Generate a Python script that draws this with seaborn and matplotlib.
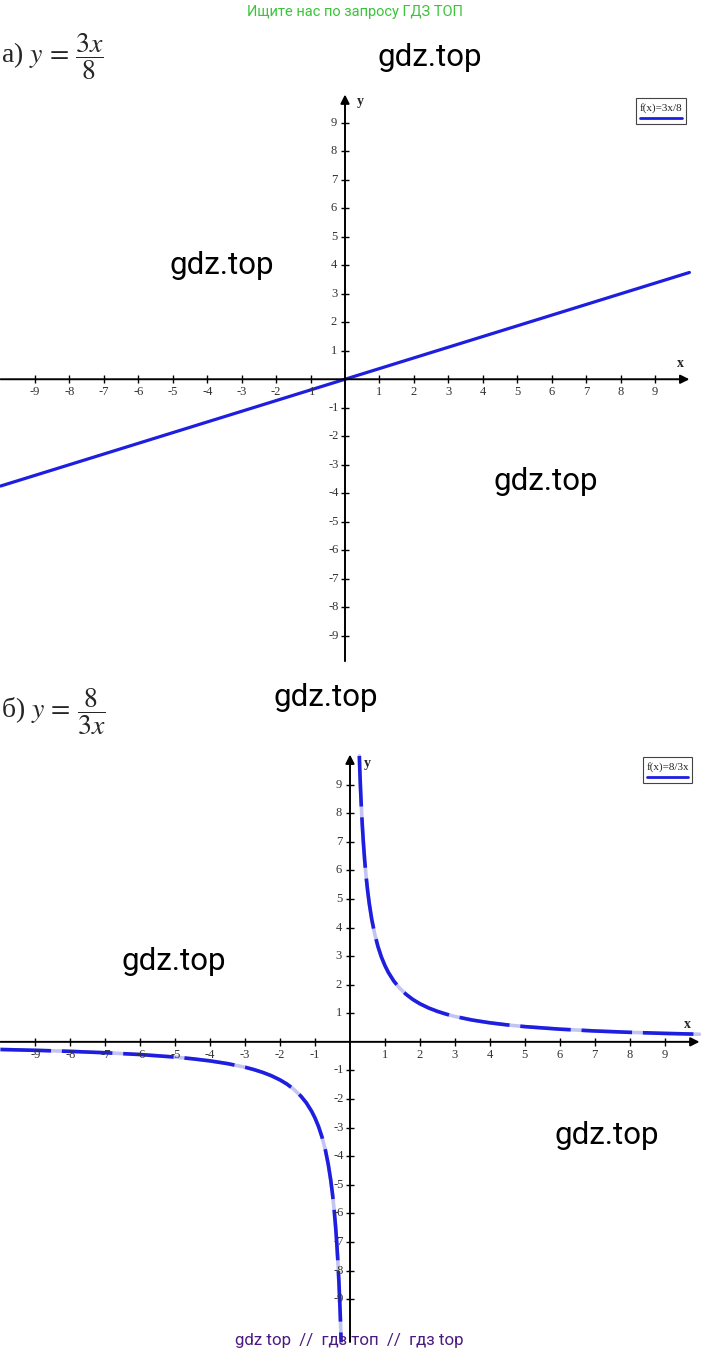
import numpy as np
import pandas as pd
import matplotlib
matplotlib.use("Agg")
import matplotlib.pyplot as plt
import seaborn as sns
from matplotlib.patches import Rectangle
from matplotlib.lines import Line2D

# data
ticks = [-9, -8, -7, -6, -5, -4, -3, -2, -1, 1, 2, 3, 4, 5, 6, 7, 8, 9]
line_x = [-10, 10]
line_y = [-3.75, 3.75]          # y = 3x/8
hyp_left_x = [-10, -9, -8, -7, -6, -5, -4.5, -4, -3.5, -3, -2.75, -2.5, -2.25, -2, -1.8, -1.6,
              -1.4, -1.25, -1.1, -1, -0.9, -0.8, -0.7, -0.62, -0.55, -0.5, -0.45, -0.41,
              -0.38, -0.35, -0.32, -0.3, -0.28, -0.265, -0.254]
hyp_left_y = [-0.267, -0.296, -0.333, -0.381, -0.444, -0.533, -0.593, -0.667, -0.762, -0.889,
              -0.970, -1.067, -1.185, -1.333, -1.481, -1.667, -1.905, -2.133, -2.424, -2.667,
              -2.963, -3.333, -3.810, -4.301, -4.848, -5.333, -5.926, -6.504, -7.018, -7.619,
              -8.333, -8.889, -9.524, -10.06, -10.5]
hyp_right_x = [0.267, 0.28, 0.3, 0.32, 0.35, 0.38, 0.42, 0.46, 0.5, 0.55, 0.62, 0.7, 0.8,
               0.9, 1, 1.1, 1.25, 1.4, 1.6, 1.8, 2, 2.25, 2.5, 2.75, 3, 3.5, 4, 4.5, 5, 6,
               7, 8, 9, 10]
hyp_right_y = [10.0, 9.524, 8.889, 8.333, 7.619, 7.018, 6.349, 5.797, 5.333, 4.848, 4.301,
               3.810, 3.333, 2.963, 2.667, 2.424, 2.133, 1.905, 1.667, 1.481, 1.333, 1.185,
               1.067, 0.970, 0.889, 0.762, 0.667, 0.593, 0.533, 0.444, 0.381, 0.333, 0.296,
               0.267]
watermarks = [(430, 58), (222, 265), (546, 482), (326, 697), (174, 962), (607, 1135)]

W, H = 701, 1357
BLUE = "#1e1ee0"
LAV = "#c4c4f2"

sns.set_theme(style="white")
plt.rcParams["mathtext.fontset"] = "stix"
plt.rcParams["font.family"] = ["Liberation Serif", "DejaVu Serif"]

fig = plt.figure(figsize=(W / 100, H / 100), dpi=100)
fig.patch.set_facecolor("white")


def fx(px):
    return px / W


def fy(py):
    return 1 - py / H


def draw_axes(ax, xmin, xmax, ymin, ymax, ppx, ppy):
    ax.set_xlim(-10, 10)
    ax.set_ylim(ymin, ymax)
    ax.axis("off")
    ap = dict(arrowstyle="-|>", color="black", lw=1.4, mutation_scale=13,
              shrinkA=0, shrinkB=0)
    ax.annotate("", xy=(xmax, 0), xytext=(xmin, 0), arrowprops=ap,
                annotation_clip=False)
    ax.annotate("", xy=(0, ymax), xytext=(0, ymin), arrowprops=ap,
                annotation_clip=False)
    zeros = np.zeros(len(ticks))
    ax.plot(ticks, zeros, ls="none", marker="|", ms=6, mew=1, color="black", clip_on=False)
    ax.plot(zeros, ticks, ls="none", marker="_", ms=6, mew=1, color="black", clip_on=False)
    for t in ticks:
        ax.text(t, -13 / ppy, str(t), ha="center", va="center", fontsize=9, color="#333333")
        ax.text(-11 / ppx, t, str(t), ha="center", va="center", fontsize=9, color="#333333")


def legend_box(x0, y0, x1, y1, label):
    fig.add_artist(Rectangle((fx(x0), fy(y1)), fx(x1) - fx(x0), fy(y0) - fy(y1),
                             transform=fig.transFigure, fill=False, lw=0.8,
                             edgecolor="#444444"))
    fig.text(fx((x0 + x1) / 2), fy(y0 + 10), label, ha="center", va="center",
             fontsize=8, color="#222222")
    fig.add_artist(Line2D([fx(x0 + 4), fx(x1 - 4)], [fy(y1 - 6), fy(y1 - 6)],
                          transform=fig.transFigure, color=BLUE, lw=2))


# chart a)
ax1 = fig.add_axes([fx(0.6), fy(664), 688.8 / W, 569.5 / H])
draw_axes(ax1, -10, 10, -9.9, 10, 34.44, 28.47)
ax1.set_ylim(-10, 10)
sns.lineplot(x=line_x, y=line_y, ax=ax1, color=BLUE, lw=2.3, clip_on=False)
ax1.text(0.45, 9.75, "y", fontsize=10, fontweight="bold", ha="center", va="center")
ax1.text(9.75, 0.55, "x", fontsize=10, fontweight="bold", ha="center", va="center")
legend_box(636, 98, 686, 124, "f(x)=3x/8")

# chart б)
ax2 = fig.add_axes([fx(0.5), fy(1342), 699 / W, 586 / H])
draw_axes(ax2, -10, 10, -10.5, 10.05, 34.95, 28.6)
ax2.set_ylim(-10.5, 10)
for xs, ys in [(hyp_left_x, hyp_left_y), (hyp_right_x, hyp_right_y)]:
    df = pd.DataFrame({"x": xs, "y": ys})
    sns.lineplot(data=df, x="x", y="y", ax=ax2, sort=False, estimator=None,
                 color=LAV, lw=2.6, clip_on=False)
    sns.lineplot(data=df, x="x", y="y", ax=ax2, sort=False, estimator=None,
                 color=BLUE, lw=2.6, linestyle=(0, (14, 3)), clip_on=False)
ax2.set_xlabel("")
ax2.set_ylabel("")
ax2.text(0.5, 9.75, "y", fontsize=10, fontweight="bold", ha="center", va="center")
ax2.text(9.65, 0.6, "x", fontsize=10, fontweight="bold", ha="center", va="center")
legend_box(643, 757, 692, 783, "f(x)=8/3x")

# formulas
fig.text(fx(1), fy(57), r"а) $y\,=\,\dfrac{3x}{8}$", fontsize=20, ha="left", va="center")
fig.text(fx(1), fy(712), r"б) $y\,=\,\dfrac{8}{3x}$", fontsize=20, ha="left", va="center")

# watermark texts
for px, py in watermarks:
    fig.text(fx(px), fy(py), "gdz.top", fontsize=22.5, family="Roboto",
             ha="center", va="center", color="black")
fig.text(fx(355), fy(12), "Ищите нас по запросу ГДЗ ТОП", fontsize=10.5,
         family="Roboto", ha="center", va="center", color="#3ac43a")
fig.text(fx(349), fy(1341), "gdz top  //  гдз топ  //  гдз top", fontsize=12.2,
         family="Roboto", ha="center", va="center", color="#4a1a80")

fig.savefig("out.png", dpi=100)
